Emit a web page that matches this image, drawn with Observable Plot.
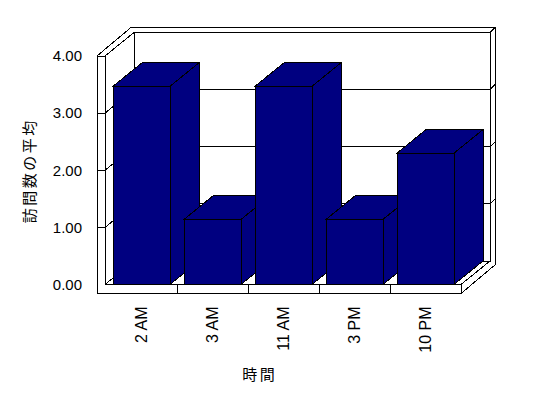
<!DOCTYPE html>
<html><head><meta charset="utf-8">
<script src="https://cdn.jsdelivr.net/npm/d3@7"></script>
<script src="https://cdn.jsdelivr.net/npm/@observablehq/plot@0.6"></script>
<style>
html,body{margin:0;padding:0;background:#fff}
#chart svg{display:block}
</style>
</head><body><div id="chart"></div>
<script>
const hours = ["2 AM", "3 AM", "11 AM", "3 PM", "10 PM"];
const averages = [3.47, 1.14, 3.47, 1.14, 2.3];
const yTicks = [0, 1, 2, 3, 4];
const yTitle = "訪問数の平均";
const xTitle = "時間";

const data = hours.map((h, i) => ({hour: h, avg: averages[i]}));

// 3D projection offsets (styling)
const DX = 29, DY = -23.5;      // depth of floor / bars
const DX2 = 34.5, DY2 = -29;    // depth including back wall thickness
const WALL = 8, FLOOR = 9, INSET = 7;
const NAVY = "#000080";

function box3d(index, scales) {
  const sx = scales.x, sy = scales.y;
  const bw = typeof sx.bandwidth === "function" ? sx.bandwidth() : sx.bandwidth;
  const starts = hours.map(h => sx(h));
  const x1 = starts[starts.length - 1] + bw;
  const xi = starts[0] - 1;
  const xw = xi - WALL;
  const y0 = sy(0), y4 = sy(yTicks[yTicks.length - 1]);
  const yb = y0 + FLOOR;
  const g = d3.create("svg:g").attr("shape-rendering", "crispEdges");
  const P = pts => "M" + pts.map(p => p[0] + "," + p[1]).join("L");
  const poly = (pts, fill) => g.append("path").attr("d", P(pts) + "Z").attr("fill", fill).attr("stroke", "#000").attr("stroke-width", 1);
  const line = pts => g.append("path").attr("d", P(pts)).attr("fill", "none").attr("stroke", "#000").attr("stroke-width", 1);
  // shell (left wall, back wall, floor)
  poly([[xw, y4], [xw + DX2, y4 + DY2], [x1 + DX2, y4 + DY2], [x1 + DX2, yb + DY2], [x1, yb], [xw, yb]], "#fff");
  line([[xw, y4], [xi, y4]]);
  line([[xi, y4], [xi, y0]]);
  line([[xi, y0], [x1, y0]]);
  line([[x1, y0], [x1, yb]]);
  line([[x1, y0], [x1 + DX, y0 + DY]]);
  line([[xi, y4], [xi + DX, y4 + DY]]);
  line([[xi + DX, y0 + DY], [xi + DX, y4 + DY], [x1 + DX, y4 + DY], [x1 + DX, y0 + DY], [xi + DX, y0 + DY]]);
  line([[xi, y0], [xi + DX, y0 + DY]]);
  line([[x1 + DX, y4 + DY], [x1 + DX2, y4 + DY2]]);
  for (let k = 1; k < starts.length; k++) line([[starts[k], y0], [starts[k], yb]]);
  // gridlines
  for (const v of yTicks.slice(1, -1)) {
    const y = sy(v);
    line([[xw, y], [xi, y], [xi + DX, y + DY], [x1 + DX, y + DY], [x1 + DX2, y + DY2]]);
  }
  // bars
  for (const i of index) {
    const d = data[i];
    const bx0 = sx(d.hour) + INSET, bx1 = sx(d.hour) + bw - INSET;
    const yv = sy(d.avg);
    poly([[bx1, yv], [bx1 + DX, yv + DY], [bx1 + DX, y0 + DY], [bx1, y0]], NAVY);
    poly([[bx0, yv], [bx0 + DX, yv + DY], [bx1 + DX, yv + DY], [bx1, yv]], NAVY);
    poly([[bx0, yv], [bx1, yv], [bx1, y0], [bx0, y0]], NAVY);
  }
  return g.node();
}

const chart = Plot.plot({
  width: 548,
  height: 398,
  marginLeft: 103.5,
  marginRight: 85,
  marginTop: 56,
  marginBottom: 113.5,
  style: {background: "#fff", color: "#000", fontSize: "15px", fontFamily: "'Liberation Sans', 'Noto Sans CJK JP', sans-serif"},
  x: {type: "band", domain: hours, padding: 0},
  y: {domain: [0, 4]},
  marks: [
    Plot.barY(data, {x: "hour", y: "avg", render: (index, scales) => box3d(index, scales)}),
    Plot.axisY(yTicks, {tickSize: 0, tickPadding: 22, tickFormat: d3.format(".2f"), fontSize: 15, label: null}),
    Plot.axisX({tickSize: 0, tickPadding: 21.5, tickRotate: -90, fontSize: 16, label: null}),
    Plot.text([yTitle], {text: d => d, frameAnchor: "left", textAnchor: "middle", lineAnchor: "middle", rotate: -90, dx: -73.5, fontSize: 15, fontFamily: "'Noto Sans CJK JP'"}),
    Plot.text([xTitle], {text: d => d, frameAnchor: "bottom", textAnchor: "middle", lineAnchor: "middle", dx: -24, dy: 90.5, fontSize: 15, fontFamily: "'Noto Sans CJK JP'"})
  ]
});
d3.select(chart).selectAll("text").filter(function () {
  return this.textContent === yTitle || this.textContent === xTitle;
}).attr("letter-spacing", "2.5px");
document.getElementById("chart").append(chart);
</script>
</body></html>
